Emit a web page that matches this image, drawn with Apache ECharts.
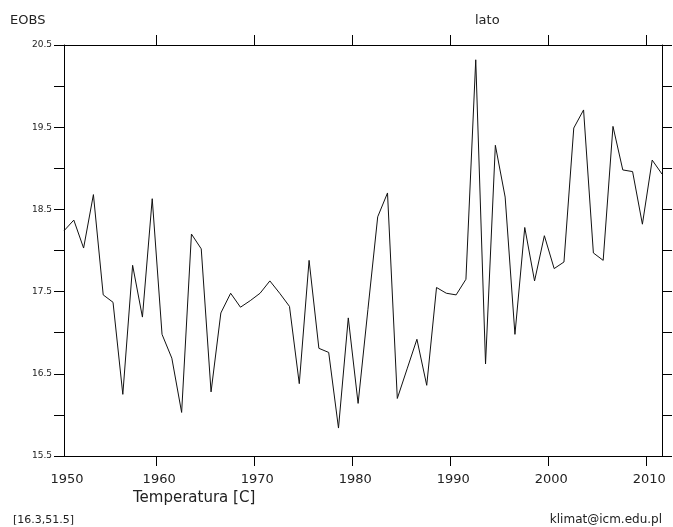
<!DOCTYPE html>
<html>
<head>
<meta charset="utf-8">
<script src="https://cdn.jsdelivr.net/npm/echarts@6/dist/echarts.min.js"></script>
<style>
  html, body { margin: 0; padding: 0; background: #fff; }
  #chart { width: 673px; height: 527px; }
</style>
</head>
<body>
<div id="chart"></div>
<script>
// lata (sezon letni), średnia temperatura [C]
const years = [];
for (let y = 1950; y <= 2011; y++) years.push(y);

const temps = [
  18.24, 18.37, 18.03, 18.68, 17.46, 17.37, 16.25, 17.82, 17.19, 18.63,
  16.98, 16.69, 16.03, 18.20, 18.02, 16.28, 17.24, 17.48, 17.31, 17.39,
  17.48, 17.63, 17.48, 17.32, 16.38, 17.88, 16.81, 16.76, 15.84, 17.18,
  16.14, 17.28, 18.41, 18.70, 16.20, 16.56, 16.92, 16.36, 17.55, 17.48,
  17.46, 17.65, 20.32, 16.62, 19.28, 18.65, 16.98, 18.28, 17.63, 18.18,
  17.78, 17.86, 19.49, 19.71, 17.97, 17.88, 19.51, 18.98, 18.96, 18.32,
  19.10, 18.93
];

// punkt sezonu letniego leży w połowie roku
const seasonOffset = 0.6;
const xMin = years[0] + seasonOffset;
const xMax = years[years.length - 1] + seasonOffset;

const decadeTicks = [1960, 1970, 1980, 1990, 2000, 2010];
const decadeLabels = [xMin, 1960, 1970, 1980, 1990, 2000, 2010];

const yMin = 15.5, yMax = 20.5, yStep = 0.5;

const txt = '#222';
const font = 'DejaVu Sans';

const chart = echarts.init(document.getElementById('chart'));

const axisLine = { show: true, onZero: false, lineStyle: { color: '#000', width: 1 } };

chart.setOption({
  animation: false,
  backgroundColor: '#fff',
  grid: { left: 64, right: 11, top: 45, bottom: 71 },
  title: [
    { text: 'EOBS', left: 5, top: 9, textStyle: { fontFamily: font, fontSize: 13, fontWeight: 'normal', color: txt } },
    { text: 'lato', left: 470, top: 9, textStyle: { fontFamily: font, fontSize: 13, fontWeight: 'normal', color: txt } },
    { text: 'Temperatura [C]', left: 128, top: 486, textStyle: { fontFamily: font, fontSize: 15, fontWeight: 'normal', color: txt } },
    { text: '[16.3,51.5]', left: 8, top: 510, textStyle: { fontFamily: font, fontSize: 11, fontWeight: 'normal', color: txt } },
    { text: 'klimat@icm.edu.pl', right: 6, top: 509, textStyle: { fontFamily: font, fontSize: 12, fontWeight: 'normal', color: txt } }
  ],
  xAxis: [
    {
      type: 'value', position: 'bottom', min: xMin, max: xMax,
      axisLine: axisLine,
      axisTick: { show: true, inside: false, length: 10, customValues: decadeTicks, lineStyle: { color: '#000' } },
      axisLabel: {
        show: true, customValues: decadeLabels, margin: 17,
        formatter: v => String(Math.floor(v)),
        fontFamily: font, fontSize: 13, color: txt, padding: [0, 0, 0, 6]
      },
      splitLine: { show: false }
    },
    {
      type: 'value', position: 'top', min: xMin, max: xMax,
      axisLine: axisLine,
      axisTick: { show: true, inside: false, length: 10, customValues: decadeTicks, lineStyle: { color: '#000' } },
      axisLabel: { show: false },
      splitLine: { show: false }
    }
  ],
  yAxis: [
    {
      type: 'value', position: 'left', min: yMin, max: yMax, interval: yStep,
      axisLine: axisLine,
      axisTick: { show: true, inside: false, length: 10, lineStyle: { color: '#000' } },
      axisLabel: {
        show: true, margin: 12,
        formatter: v => (Math.abs(v - Math.floor(v) - 0.5) < 1e-6 ? v.toFixed(1) : ''),
        fontFamily: font, fontSize: 9, color: txt
      },
      splitLine: { show: false }
    },
    {
      type: 'value', position: 'right', min: yMin, max: yMax, interval: yStep,
      axisLine: axisLine,
      axisTick: { show: true, inside: false, length: 10, lineStyle: { color: '#000' } },
      axisLabel: { show: false },
      splitLine: { show: false }
    }
  ],
  series: [{
    type: 'line',
    xAxisIndex: 0,
    yAxisIndex: 0,
    data: years.map((y, i) => [y + seasonOffset, temps[i]]),
    showSymbol: false,
    symbol: 'none',
    lineStyle: { color: '#111', width: 1 }
  }]
});
</script>
</body>
</html>
